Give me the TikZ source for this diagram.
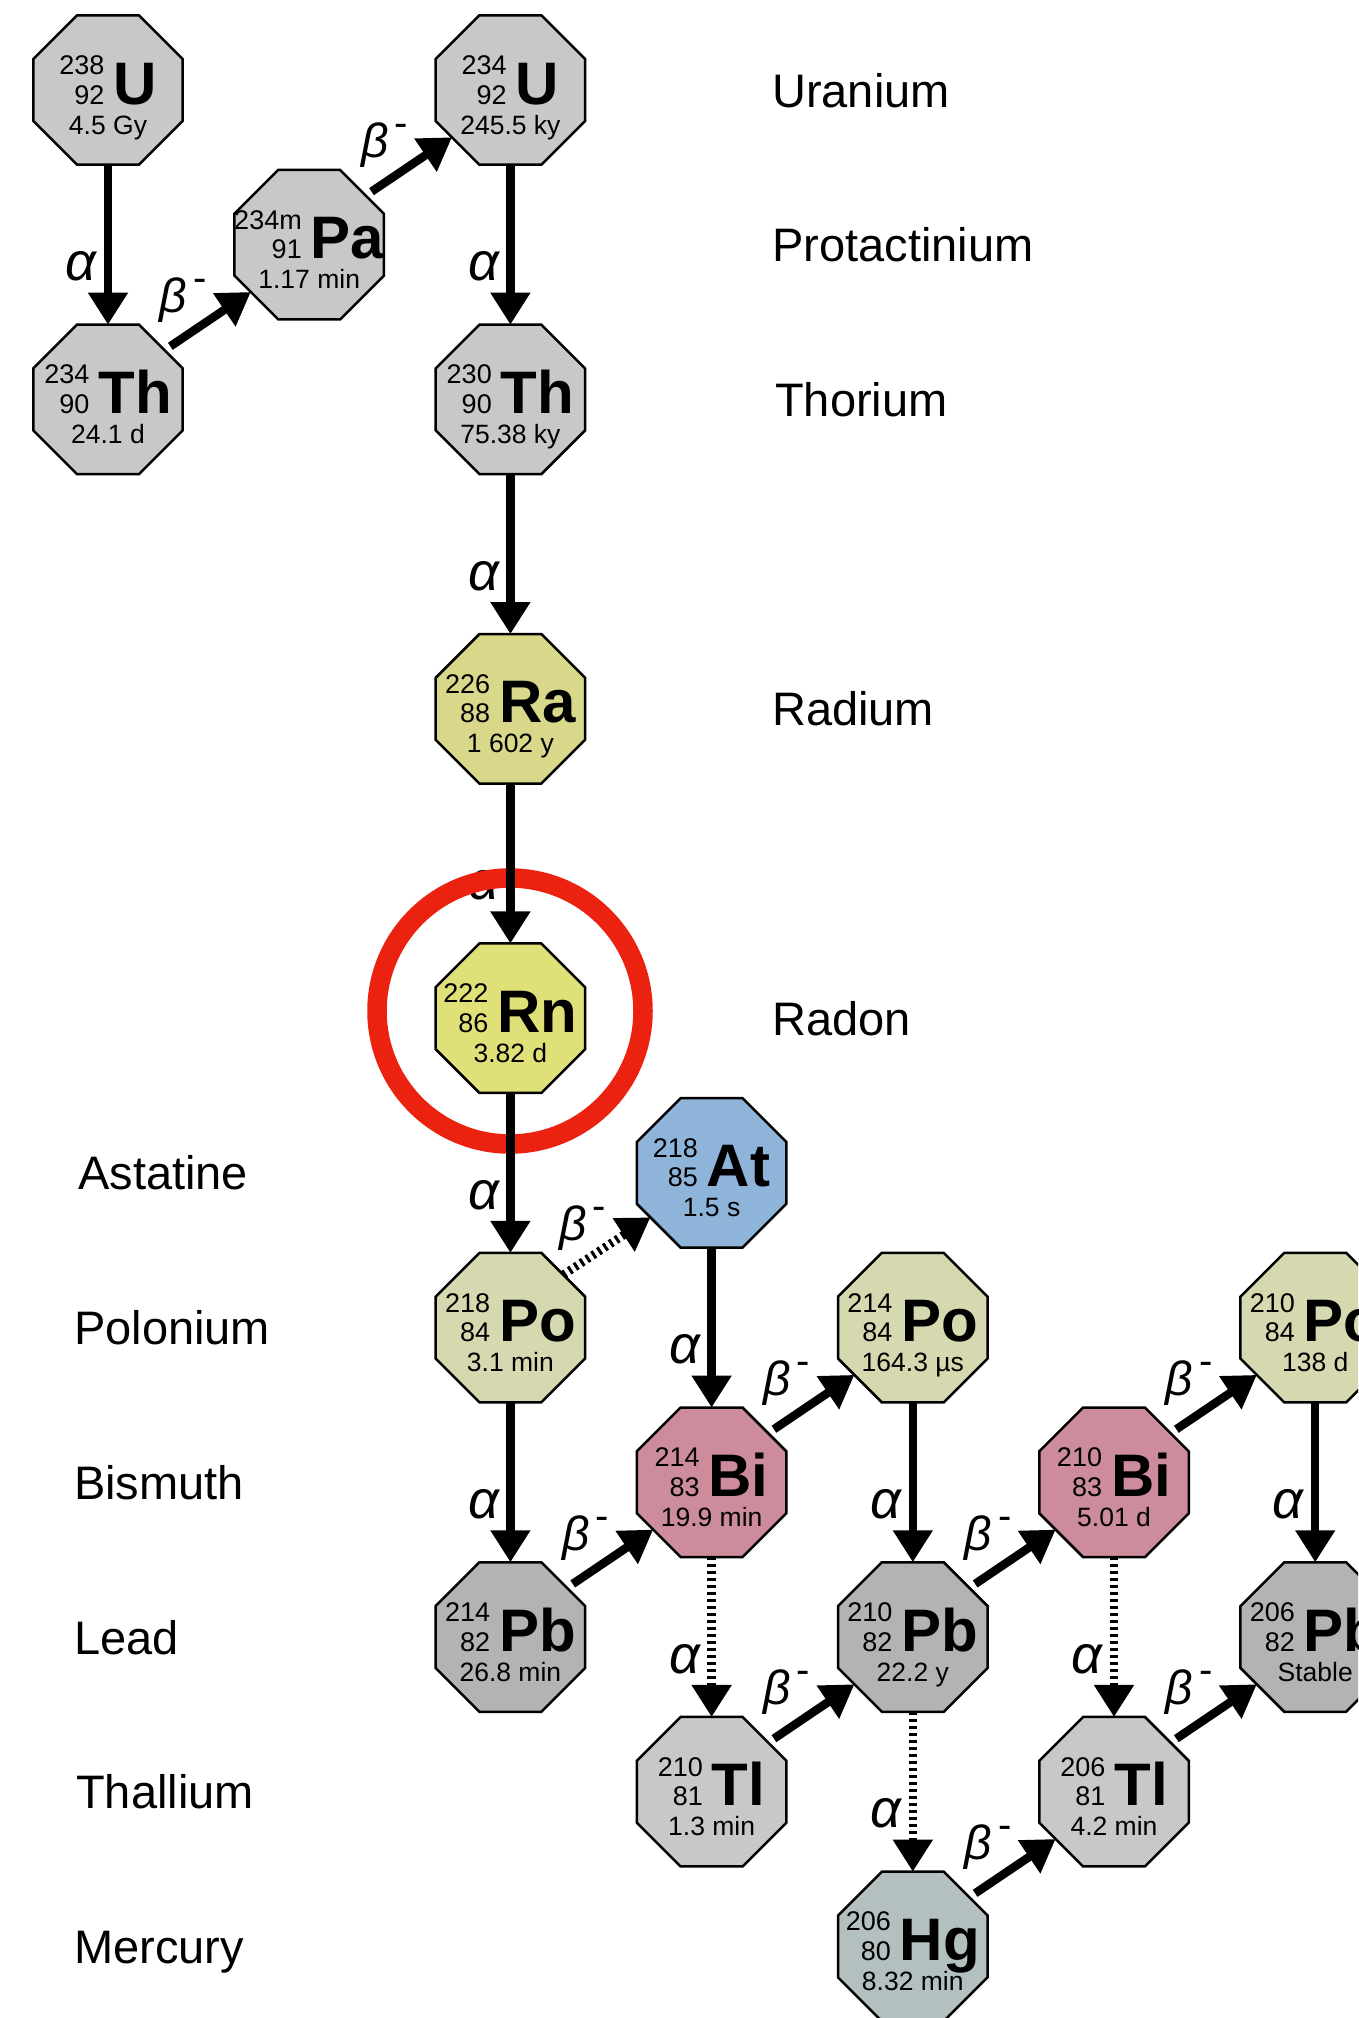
\documentclass[tikz,border=0pt]{standalone}
\usepackage{fontspec}
\setmainfont{Liberation Sans}
\usetikzlibrary{shapes.geometric,arrows.meta,calc}
\definecolor{cgray}{RGB}{200,200,200}
\definecolor{cRa}{RGB}{216,215,138}
\definecolor{cRn}{RGB}{224,224,121}
\definecolor{cAt}{RGB}{143,180,218}
\definecolor{cPo}{RGB}{214,216,176}
\definecolor{cBi}{RGB}{204,140,156}
\definecolor{cPb}{RGB}{179,179,179}
\definecolor{cTl}{RGB}{200,200,200}
\definecolor{cHg}{RGB}{180,192,192}
\definecolor{ringred}{RGB}{236,34,16}
\tikzset{
  octo/.style={regular polygon, regular polygon sides=8, minimum size=161.8pt,
    inner sep=0pt, outer sep=0pt, draw=black, line width=2.5pt},
  numtext/.style={inner sep=0pt, anchor=base, text=black},
  halftext/.style={inner sep=0pt, anchor=base, text=black, font=\fontsize{26.5}{30}\selectfont},
  elemlab/.style={inner sep=0pt, anchor=base west, font=\fontsize{47}{56}\selectfont},
  decay/.style={line width=8.5pt, -{Triangle[length=32pt,width=38pt]}},
  betadecay/.style={decay, shorten <=7pt},
  weakdecay/.style={decay, dash pattern=on 3pt off 4pt},
  alab/.style={inner sep=0pt, anchor=center, font=\fontsize{54}{60}\selectfont\itshape},
  blab/.style={inner sep=0pt, anchor=center, font=\fontsize{48}{56}\selectfont\itshape},
}
\newcommand{\isolab}[3]{{\fontsize{27}{29.5}\selectfont\begin{tabular}[b]{@{}r@{}}#1\\#2\end{tabular}}\hspace{9pt}{\fontsize{60}{60}\selectfont\bfseries #3}}
\newcommand{\isonode}[8]{%
  \node[octo, fill=#4] (#1) at (#2,#3) {};
  \node[numtext] (#1-s) at ([yshift=-14pt]#1.center) {\isolab{#5}{#6}{#7}};
  \node[halftext] (#1-h) at ([yshift=-44pt]#1.center) {#8};
}
\newcommand{\bminus}{β\rlap{\kern6pt\raisebox{21pt}{\upshape\fontsize{40}{40}\selectfont -}}}
\begin{document}
\begin{tikzpicture}[x=1pt,y=-1pt]
\useasboundingbox (0,0) rectangle (1358,2018);
\clip (0,0) rectangle (1358,2018);
\fill[white] (0,0) rectangle (1358,2018);

% isotopes
\isonode{U238}{108}{90}{cgray}{238}{92}{U}{4.5 Gy}
\isonode{Th234}{108}{399.4}{cgray}{234}{90}{Th}{24.1 d}
\isonode{Pa234}{309.2}{244.7}{cgray}{234m}{91}{Pa}{1.17 min}
\isonode{U234}{510.4}{90}{cgray}{234}{92}{U}{245.5 ky}
\isonode{Th230}{510.4}{399.4}{cgray}{230}{90}{Th}{75.38 ky}
\isonode{Ra226}{510.4}{708.8}{cRa}{226}{88}{Ra}{1 602 y}
\isonode{Rn222}{510.4}{1018.2}{cRn}{222}{86}{Rn}{3.82 d}
\isonode{At218}{711.6}{1172.9}{cAt}{218}{85}{At}{1.5 s}
\isonode{Po218}{510.4}{1327.6}{cPo}{218}{84}{Po}{3.1 min}
\isonode{Bi214}{711.6}{1482.3}{cBi}{214}{83}{Bi}{19.9 min}
\isonode{Pb214}{510.4}{1637}{cPb}{214}{82}{Pb}{26.8 min}
\isonode{Po214}{912.8}{1327.6}{cPo}{214}{84}{Po}{164.3 µs}
\isonode{Tl210}{711.6}{1791.7}{cTl}{210}{81}{Tl}{1.3 min}
\isonode{Pb210}{912.8}{1637}{cPb}{210}{82}{Pb}{22.2 y}
\isonode{Hg206}{912.8}{1946.4}{cHg}{206}{80}{Hg}{8.32 min}
\isonode{Bi210}{1114}{1482.3}{cBi}{210}{83}{Bi}{5.01 d}
\isonode{Tl206}{1114}{1791.7}{cTl}{206}{81}{Tl}{4.2 min}
\isonode{Po210}{1315.2}{1327.6}{cPo}{210}{84}{Po}{138 d}
\isonode{Pb206}{1315.2}{1637}{cPb}{206}{82}{Pb}{Stable}

% element names
\node[elemlab] (nU)  at (772,107) {Uranium};
\node[elemlab] (nPa) at (772,261.7) {Protactinium};
\node[elemlab] (nTh) at (775,416.4) {Thorium};
\node[elemlab] (nRa) at (772,725.8) {Radium};
\node[elemlab] (nRn) at (772,1035.2) {Radon};
\node[elemlab] (nAt) at (78,1189.9) {Astatine};
\node[elemlab] (nPo) at (74,1344.6) {Polonium};
\node[elemlab] (nBi) at (74,1499.3) {Bismuth};
\node[elemlab] (nPb) at (74,1654) {Lead};
\node[elemlab] (nTl) at (76,1808.7) {Thallium};
\node[elemlab] (nHg) at (74,1963.4) {Mercury};

% alpha labels
\node[alab] (a1) at ($(U238)!0.5!(Th234)+(-27,22)$) {α};
\node[alab] (a2) at ($(U234)!0.5!(Th230)+(-27,22)$) {α};
\node[alab] (a3) at ($(Th230)!0.5!(Ra226)+(-27,22)$) {α};
\node[alab] (a4) at ($(Ra226)!0.5!(Rn222)+(-27,22)$) {α};
\node[alab] (a5) at ($(Rn222)!0.5!(Po218)+(-27,22)$) {α};
\node[alab] (a6) at ($(At218)!0.5!(Bi214)+(-27,22)$) {α};
\node[alab] (a7) at ($(Po218)!0.5!(Pb214)+(-27,22)$) {α};
\node[alab] (a8) at ($(Po214)!0.5!(Pb210)+(-27,22)$) {α};
\node[alab] (a9) at ($(Po210)!0.5!(Pb206)+(-27,22)$) {α};
\node[alab] (a10) at ($(Bi214)!0.5!(Tl210)+(-27,22)$) {α};
\node[alab] (a11) at ($(Pb210)!0.5!(Hg206)+(-27,22)$) {α};
\node[alab] (a12) at ($(Bi210)!0.5!(Tl206)+(-27,22)$) {α};

% beta labels
\node[blab] (b1) at ($(Th234)!0.5!(Pa234)+(-35,-22)$) {\bminus};
\node[blab] (b2) at ($(Pa234)!0.5!(U234)+(-35,-22)$) {\bminus};
\node[blab] (b3) at ($(Po218)!0.5!(At218)+(-38,-22)$) {\bminus};
\node[blab] (b4) at ($(Pb214)!0.5!(Bi214)+(-35,-22)$) {\bminus};
\node[blab] (b5) at ($(Bi214)!0.5!(Po214)+(-35,-22)$) {\bminus};
\node[blab] (b6) at ($(Tl210)!0.5!(Pb210)+(-35,-22)$) {\bminus};
\node[blab] (b7) at ($(Pb210)!0.5!(Bi210)+(-35,-22)$) {\bminus};
\node[blab] (b8) at ($(Hg206)!0.5!(Tl206)+(-35,-22)$) {\bminus};
\node[blab] (b9) at ($(Bi210)!0.5!(Po210)+(-35,-22)$) {\bminus};
\node[blab] (b10) at ($(Tl206)!0.5!(Pb206)+(-35,-22)$) {\bminus};

% red ring around radon
\node[circle, draw=ringred, line width=19.5pt, minimum size=266pt, inner sep=0pt, outer sep=0pt] (ring) at (510,1011) {};

% alpha decays
\draw[decay] (U238.south) -- (Th234.north);
\draw[decay] (U234.south) -- (Th230.north);
\draw[decay] (Th230.south) -- (Ra226.north);
\draw[decay] (Ra226.south) -- (Rn222.north);
\draw[decay] (Rn222.south) -- (Po218.north);
\draw[decay] (At218.south) -- (Bi214.north);
\draw[decay] (Po218.south) -- (Pb214.north);
\draw[decay] (Po214.south) -- (Pb210.north);
\draw[decay] (Po210.south) -- (Pb206.north);
\draw[weakdecay] (Bi214.south) -- (Tl210.north);
\draw[weakdecay] (Pb210.south) -- (Hg206.north);
\draw[weakdecay] (Bi210.south) -- (Tl206.north);

% beta decays
\draw[betadecay] (Th234.41) -- (Pa234.219);
\draw[betadecay] (Pa234.41) -- (U234.219);
\draw[weakdecay] (Po218.45) -- (At218.216);
\draw[betadecay] (Pb214.41) -- (Bi214.219);
\draw[betadecay] (Bi214.41) -- (Po214.219);
\draw[betadecay] (Tl210.41) -- (Pb210.219);
\draw[betadecay] (Pb210.41) -- (Bi210.219);
\draw[betadecay] (Hg206.41) -- (Tl206.219);
\draw[betadecay] (Bi210.41) -- (Po210.219);
\draw[betadecay] (Tl206.41) -- (Pb206.219);
\end{tikzpicture}
\end{document}
